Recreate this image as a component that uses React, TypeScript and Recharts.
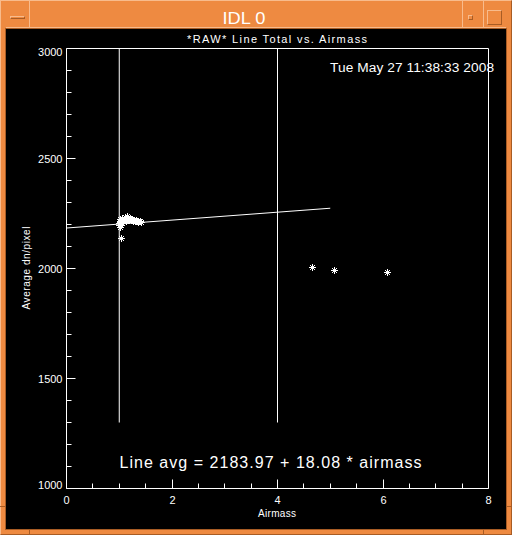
import React from 'react'
import { ComposedChart, Scatter, XAxis, YAxis, ReferenceLine } from 'recharts'

const clusterAirmass = [1.0, 1.01, 1.02, 1.03, 1.05, 1.06, 1.08, 1.1, 1.12, 1.13, 1.15, 1.17, 1.19, 1.21, 1.23, 1.25, 1.28, 1.3, 1.33, 1.36, 1.39, 1.42, 1.02, 1.03, 1.04, 1.07, 1.09, 1.11, 1.14, 1.16, 1.2, 1.24, 1.27, 1.31, 1.35, 1.0, 1.04]
const clusterDn = [2198, 2212, 2224, 2216, 2229, 2206, 2221, 2233, 2226, 2216, 2238, 2229, 2220, 2231, 2224, 2219, 2222, 2215, 2218, 2212, 2214, 2210, 2188, 2140, 2220, 2214, 2227, 2219, 2230, 2222, 2226, 2227, 2217, 2221, 2216, 2205, 2200]
const farAirmass = [4.66, 5.08, 6.08]
const farDn = [2005, 1995, 1983]
const fitAirmass = [0, 5]
const fitDn = [2184, 2274]
const markerAirmass = [1, 4]
const markerDn = [1300, 3000]
const xTicks = [0, 0.5, 1, 1.5, 2, 2.5, 3, 3.5, 4, 4.5, 5, 5.5, 6, 6.5, 7, 7.5, 8]
const xLabels = [0, 2, 4, 6, 8]
const yTicks = [1000, 1100, 1200, 1300, 1400, 1500, 1600, 1700, 1800, 1900, 2000, 2100, 2200, 2300, 2400, 2500, 2600, 2700, 2800, 2900, 3000]
const yLabels = [1000, 1500, 2000, 2500, 3000]

const TITLE = '*RAW* Line Total vs. Airmass'
const STAMP = 'Tue May 27 11:38:33 2008'
const FIT_TEXT = 'Line avg = 2183.97 + 18.08 * airmass'

const FONT = '"Liberation Sans", Arial, sans-serif'
const OR = '#ee8a41', LT = '#f8bb8c', DK = '#a85c24'

const pts = (xs: number[], ys: number[]) => xs.map((x, i) => ({ x, y: ys[i] }))
const px = (v: number) => Math.round(v - 0.5) + 0.5

const Star = (p: any) => {
  const { cx, cy } = p
  if (cx == null || cy == null) return <g />
  const x = Math.round(cx) + 0.5, y = Math.round(cy) + 0.5, r = 3.5, d = 2.5
  return (
    <g stroke="#fff" strokeWidth={1}>
      <line x1={x - r} y1={y} x2={x + r} y2={y} />
      <line x1={x} y1={y - r} x2={x} y2={y + r} />
      <line x1={x - d} y1={y - d} x2={x + d} y2={y + d} />
      <line x1={x - d} y1={y + d} x2={x + d} y2={y - d} />
    </g>
  )
}
const NoDot = () => <g />

const BottomTick = (p: any) => {
  const v = p.payload.value, x = px(p.x), y = p.y
  const major = xLabels.includes(v)
  return (
    <g>
      <line x1={x} y1={y} x2={x} y2={y - (major ? 9 : 5)} stroke="#fff" />
      {major && <text x={x} y={y + 15.5} textAnchor="middle" fill="#fff" fontSize={11} fontFamily={FONT}>{v}</text>}
    </g>
  )
}
const TopTick = (p: any) => {
  const v = p.payload.value, x = px(p.x), y = p.y
  const major = xLabels.includes(v)
  return <line x1={x} y1={y} x2={x} y2={y + (major ? 9 : 5)} stroke="#fff" />
}
const LeftTick = (p: any) => {
  const v = p.payload.value, x = p.x, y = px(p.y)
  const major = yLabels.includes(v)
  const dy = v === 3000 ? 7.5 : v === 1000 ? 0 : 4
  return (
    <g>
      <line x1={x} y1={y} x2={x + (major ? 9 : 5)} y2={y} stroke="#fff" />
      {major && <text x={x - 4} y={y + dy} textAnchor="end" fill="#fff" fontSize={11} fontFamily={FONT}>{v}</text>}
    </g>
  )
}
const RightTick = (p: any) => {
  const v = p.payload.value, x = p.x, y = px(p.y)
  const major = yLabels.includes(v)
  return <line x1={x} y1={y} x2={x - (major ? 9 : 5)} y2={y} stroke="#fff" />
}

function Frame() {
  const box = (l: number, t: number, w: number, h: number, extra: React.CSSProperties = {}) =>
    <div style={{ position: 'absolute', left: l, top: t, width: w, height: h, boxSizing: 'border-box', ...extra }} />
  return (
    <>
      {box(0, 0, 512, 535, { borderTop: `1px solid ${LT}`, borderLeft: `1px solid ${LT}`, borderRight: `1px solid ${DK}`, borderBottom: `1px solid ${DK}` })}
      {box(29, 0, 1, 29, { background: LT })}
      {box(462, 0, 1, 29, { background: LT })}
      {box(483, 0, 1, 29, { background: LT })}
      {box(6, 27, 500, 1, { background: LT })}
      {box(10, 16, 15, 3, { borderTop: `1px solid ${LT}`, borderBottom: `1px solid ${DK}`, borderLeft: `1px solid ${LT}`, borderRight: `1px solid ${DK}` })}
      {box(468, 15, 5, 5, { borderTop: `1px solid ${LT}`, borderLeft: `1px solid ${LT}`, borderBottom: `1px solid ${DK}`, borderRight: `1px solid ${DK}` })}
      {box(487, 10, 15, 15, { borderTop: `1px solid ${LT}`, borderLeft: `1px solid ${LT}`, borderBottom: `1px solid ${DK}`, borderRight: `1px solid ${DK}` })}
      {box(0, 506, 6, 1, { background: DK })}
      {box(506, 506, 6, 1, { background: DK })}
      {box(29, 529, 1, 6, { background: DK })}
      {box(483, 529, 1, 6, { background: DK })}
      {box(5, 28, 502, 502, { border: `1px solid ${DK}` })}
    </>
  )
}

export default function App() {
  const cluster = pts(clusterAirmass, clusterDn)
  const far = pts(farAirmass, farDn)
  const fit = pts(fitAirmass, fitDn)
  return (
    <div style={{ position: 'absolute', left: 0, top: 0, width: 512, height: 535, background: OR, overflow: 'hidden', fontFamily: FONT }}>
      <Frame />
      <div style={{ position: 'absolute', left: 6, top: 29, width: 500, height: 500, background: '#000' }}>
        <ComposedChart width={500} height={500} margin={{ top: 9.5, right: 7.5, bottom: 10.5, left: 20.5 }}>
          <XAxis xAxisId={0} dataKey="x" type="number" domain={[0, 8]} ticks={xTicks} interval={0} height={30}
            tickSize={0} tickMargin={0} tickLine={false} axisLine={{ stroke: '#fff' }} tick={BottomTick} />
          <XAxis xAxisId="top" orientation="top" type="number" domain={[0, 8]} ticks={xTicks} interval={0} height={10}
            tickSize={0} tickMargin={0} tickLine={false} axisLine={{ stroke: '#fff' }} tick={TopTick} />
          <YAxis yAxisId={0} dataKey="y" type="number" domain={[1000, 3000]} ticks={yTicks} interval={0} width={40}
            tickSize={0} tickMargin={0} tickLine={false} axisLine={{ stroke: '#fff' }} tick={LeftTick} />
          <YAxis yAxisId="right" orientation="right" type="number" domain={[1000, 3000]} ticks={yTicks} interval={0} width={10}
            tickSize={0} tickMargin={0} tickLine={false} axisLine={{ stroke: '#fff' }} tick={RightTick} />
          {markerAirmass.map(a => (
            <ReferenceLine key={a} segment={[{ x: a, y: markerDn[0] }, { x: a, y: markerDn[1] }]} stroke="#fff" strokeWidth={1} />
          ))}
          <Scatter data={fit} line={{ stroke: '#fff', strokeWidth: 1 }} shape={NoDot} isAnimationActive={false} />
          <Scatter data={cluster} shape={Star} isAnimationActive={false} />
          <Scatter data={far} shape={Star} isAnimationActive={false} />
        </ComposedChart>
      </div>
      <svg width={512} height={535} style={{ position: 'absolute', left: 0, top: 0, pointerEvents: 'none' }} fontFamily={FONT} fill="#fff">
        <text x={244} y={24} textAnchor="middle" fontSize={17} textLength={43} lengthAdjust="spacingAndGlyphs">IDL 0</text>
        <text x={277} y={43} textAnchor="middle" fontSize={11} textLength={180} lengthAdjust="spacing">{TITLE}</text>
        <text x={330} y={71.5} fontSize={13.7} textLength={164} lengthAdjust="spacing">{STAMP}</text>
        <text x={119.5} y={467.5} fontSize={16} textLength={302} lengthAdjust="spacing">{FIT_TEXT}</text>
        <text x={277} y={517} textAnchor="middle" fontSize={10} textLength={38} lengthAdjust="spacing">Airmass</text>
        <text transform="translate(30,268) rotate(-90)" textAnchor="middle" fontSize={10} textLength={83} lengthAdjust="spacing">Average dn/pixel</text>
      </svg>
    </div>
  )
}
